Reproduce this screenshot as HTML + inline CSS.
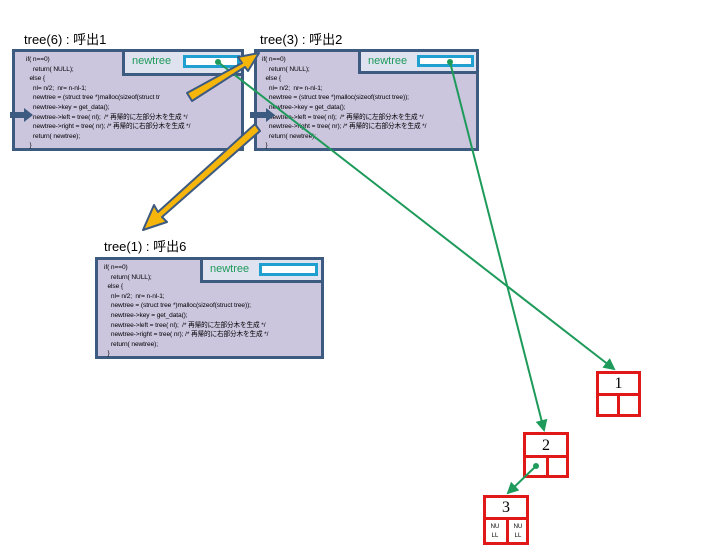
<!DOCTYPE html>
<html><head><meta charset="utf-8"><style>
body{margin:0;width:720px;height:540px;background:#fff;position:relative;overflow:hidden;font-family:"Liberation Sans","Noto Sans CJK JP",sans-serif}
.t{position:absolute;font-size:13px;color:#000}
.box{position:absolute;background:#cbc5de;border:3px solid #3d5a80;box-sizing:border-box}
.code{position:absolute;font-size:6.6px;line-height:9.6px;white-space:pre;color:#000;letter-spacing:-0.1px}
.nt{position:absolute;background:#dfe3f0;border:3px solid #3d5a80;border-top:none;border-right:none;box-sizing:border-box}
.nt span{position:absolute;left:7px;top:3px;font-size:11px;color:#1e9a5a}
.nt i{position:absolute;background:#fff;border:3px solid #1fa0d0;box-sizing:border-box}
.node{position:absolute;border:3px solid #e01818;box-sizing:border-box;background:#fff}
.node .h{position:absolute;left:0;right:0;border-bottom:3px solid #e01818;text-align:center;font-family:"Liberation Serif",serif;font-size:16px}
.node .v{position:absolute;width:3px;background:#e01818;bottom:0}
.nl{position:absolute;font-size:6px;line-height:9px;text-align:center;width:16px}
</style></head><body>
<div class="t" style="left:24px;top:29px">tree(6) : 呼出1</div>
<div class="t" style="left:260px;top:29px">tree(3) : 呼出2</div>
<div class="t" style="left:104px;top:236px">tree(1) : 呼出6</div>

<div class="box" style="left:12px;top:49px;width:232px;height:102px"></div>
<div class="nt" style="left:122px;top:52px;width:119px;height:24px"><span>newtree</span><i style="left:58px;top:3px;width:57px;height:13px"></i></div>
<div class="code" style="left:26px;top:55px">if( n==0)
    return( NULL);
  else {
    nl= n/2;  nr= n-nl-1;
    newtree = (struct tree *)malloc(sizeof(struct tr
    newtree->key = get_data();
    newtree->left = tree( nl);  /* 再帰的に左部分木を生成 */
    newtree->right = tree( nr); /* 再帰的に右部分木を生成 */
    return( newtree);
  }</div>

<div class="box" style="left:254px;top:49px;width:225px;height:102px"></div>
<div class="nt" style="left:358px;top:52px;width:118px;height:22px"><span>newtree</span><i style="left:56px;top:3px;width:57px;height:12px"></i></div>
<div class="code" style="left:262px;top:55px">if( n==0)
    return( NULL);
  else {
    nl= n/2;  nr= n-nl-1;
    newtree = (struct tree *)malloc(sizeof(struct tree));
    newtree->key = get_data();
    newtree->left = tree( nl);  /* 再帰的に左部分木を生成 */
    newtree->right = tree( nr); /* 再帰的に右部分木を生成 */
    return( newtree);
  }</div>

<div class="box" style="left:95px;top:257px;width:229px;height:102px"></div>
<div class="nt" style="left:200px;top:260px;width:121px;height:23px"><span>newtree</span><i style="left:56px;top:3px;width:59px;height:13px"></i></div>
<div class="code" style="left:104px;top:263px">if( n==0)
    return( NULL);
  else {
    nl= n/2;  nr= n-nl-1;
    newtree = (struct tree *)malloc(sizeof(struct tree));
    newtree->key = get_data();
    newtree->left = tree( nl);  /* 再帰的に左部分木を生成 */
    newtree->right = tree( nr); /* 再帰的に右部分木を生成 */
    return( newtree);
  }</div>

<div class="node" style="left:596px;top:371px;width:45px;height:46px"><div class="h" style="height:19px;line-height:20px">1</div><div class="v" style="left:18px;top:22px"></div></div>
<div class="node" style="left:523px;top:432px;width:46px;height:46px"><div class="h" style="height:20px;line-height:21px">2</div><div class="v" style="left:20px;top:23px"></div></div>
<div class="node" style="left:483px;top:495px;width:46px;height:50px"><div class="h" style="height:19px;line-height:20px">3</div><div class="v" style="left:20px;top:22px"></div>
<div class="nl" style="left:1px;top:25px">NU<br>LL</div><div class="nl" style="left:24px;top:25px">NU<br>LL</div></div>

<svg width="720" height="540" style="position:absolute;left:0;top:0">
<defs><marker id="g" markerWidth="6" markerHeight="6" refX="5" refY="3" orient="auto"><path d="M0,0 L6,3 L0,6 z" fill="#1e9a5a"/></marker></defs>
<g stroke="#1e9a5a" stroke-width="2" fill="none">
<line x1="218" y1="62" x2="614" y2="369" marker-end="url(#g)"/>
<line x1="450" y1="62" x2="544" y2="430" marker-end="url(#g)"/>
<line x1="536" y1="466" x2="508" y2="493" marker-end="url(#g)"/>
</g>
<g fill="#1e9a5a"><circle cx="218" cy="62" r="3"/><circle cx="450" cy="62" r="3"/><circle cx="536" cy="466" r="3"/></g>
<g fill="#f5b50a" stroke="#3d5a80" stroke-width="2" stroke-linejoin="round">
<path d="M187,93 L242,63 L238,57 L259,53 L248,71 L245,67 L192,101 z"/>
<path d="M255,124 L158,212 L154,205 L143,230 L167,222 L162,217 L260,131 z"/>
</g>
<g fill="#3d5a80">
<path d="M10,112 L24,112 L24,108 L33,115 L24,122 L24,118 L10,118 z"/>
<path d="M250,112 L266,112 L266,108 L275,115 L266,122 L266,118 L250,118 z"/>
</g>
</svg>
</body></html>
